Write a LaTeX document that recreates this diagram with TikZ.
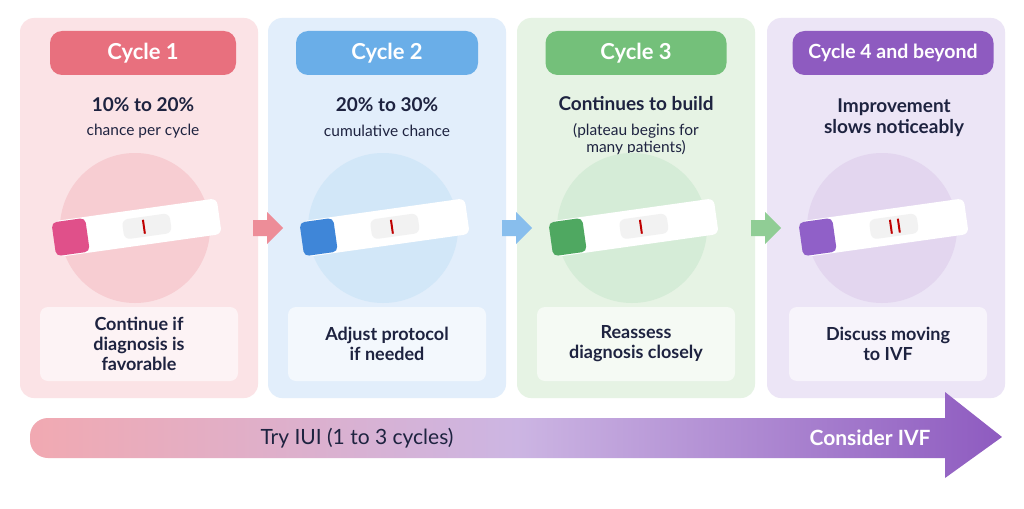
\documentclass[tikz,border=0pt]{standalone}
\usepackage{fontspec}
\setmainfont{Lato}
\usetikzlibrary{shapes.geometric,shadings}
\definecolor{pA}{HTML}{E8707E}\definecolor{pAbg}{HTML}{FBE3E6}\definecolor{pAc}{HTML}{E0508A}
\definecolor{pB}{HTML}{6AAEE8}\definecolor{pBbg}{HTML}{E2EEFB}\definecolor{pBc}{HTML}{3F86D8}
\definecolor{pC}{HTML}{74C07A}\definecolor{pCbg}{HTML}{E6F3E4}\definecolor{pCc}{HTML}{4FA861}
\definecolor{pD}{HTML}{8E5BC0}\definecolor{pDbg}{HTML}{ECE5F6}\definecolor{pDc}{HTML}{9060C8}
\definecolor{txt}{HTML}{1E2340}
\tikzset{
 panel/.style={rounded corners=14pt,fill=#1,draw=none},
 pill/.style={rounded corners=12pt,fill=#1,text=white,font=\bfseries\fontsize{22}{24}\selectfont,minimum height=44pt,inner xsep=4pt},
 ttl/.style={text=txt,font=\bfseries\fontsize{19}{21}\selectfont,align=center},
 sub/.style={text=txt,font=\fontsize{15.5}{17}\selectfont,align=center},
 box/.style={rounded corners=8pt,fill=white,fill opacity=0.6,text opacity=1,text=txt,font=\bfseries\fontsize{18}{20}\selectfont,align=center,minimum width=198pt,minimum height=74pt},
}
\newcommand{\teststick}[4]{% x,y,color,circle color
 \fill[#4] (#1,#2) circle (75);
 \begin{scope}[shift={(#1,#2)},rotate=8]
  \fill[white,rounded corners=6pt] (-80,-18) rectangle (85,18);
  \fill[#3,rounded corners=5pt] (-82,-17) rectangle (-48,17);
  \fill[white!90!gray,rounded corners=6pt] (-12,-10) rectangle (36,10);
  \draw[red!75!black,line width=2pt] (9,-7) -- (9,7);
 \end{scope}}
\begin{document}
\begin{tikzpicture}[x=1pt,y=-1pt]
\useasboundingbox (0,0) rectangle (1024,508);
\fill[white] (0,0) rectangle (1024,508);
\node[panel=pAbg,minimum width=238pt,minimum height=380pt] (p1) at (139,208) {};
\node[panel=pBbg,minimum width=238pt,minimum height=380pt] (p2) at (387,208) {};
\node[panel=pCbg,minimum width=238pt,minimum height=380pt] (p3) at (636,208) {};
\node[panel=pDbg,minimum width=238pt,minimum height=380pt] (p4) at (886,208) {};
\node[pill=pA,minimum width=186pt] (h1) at (143,53) {Cycle 1};
\node[pill=pB,minimum width=182pt] (h2) at (387,53) {Cycle 2};
\node[pill=pC,minimum width=181pt] (h3) at (636,53) {Cycle 3};
\node[pill=pD,minimum width=201pt,font=\bfseries\fontsize{19.5}{22}\selectfont] (h4) at (893,53) {Cycle 4 and beyond};
\node[ttl] (t1) at (143,105) {10\% to 20\%};
\node[sub] (s1) at (143,131) {chance per cycle};
\node[ttl] (t2) at (387,105) {20\% to 30\%};
\node[sub] (s2) at (387,131) {cumulative chance};
\node[ttl] (t3) at (636,104) {Continues to build};
\node[sub] (s3) at (636,139) {(plateau begins for\\many patients)};
\node[ttl] (t4) at (894,118) {Improvement\\slows noticeably};
\teststick{135}{228}{pAc}{pA!35}
\teststick{383}{228}{pBc}{pB!30}
\teststick{632}{228}{pCc}{pC!30}
\teststick{882}{228}{pDc}{pD!25}
\begin{scope}[shift={(882,228)},rotate=8]\draw[red!75!black,line width=2pt] (17,-7) -- (17,7);\end{scope}
\node[box] (b1) at (139,344) {Continue if\\diagnosis is\\favorable};
\node[box] (b2) at (387,344) {Adjust protocol\\if needed};
\node[box] (b3) at (636,344) {Reassess\\diagnosis closely};
\node[box] (b4) at (888,344) {Discuss moving\\to IVF};
\foreach \x/\c in {263/pA,512/pB,761/pC}{
 \fill[\c!80] (\x-10,220) -- (\x+4,220) -- (\x+4,212) -- (\x+20,228) -- (\x+4,244) -- (\x+4,236) -- (\x-10,236) -- cycle;}
\shade[left color=pA!60,right color=pD,middle color=pD!45] (30,418) [rounded corners=18pt] -- (30,458) [sharp corners] -- (945,458) -- (945,478) -- (1002,437) -- (945,392) -- (945,418) [rounded corners=18pt] -- cycle;
\node[text=txt,font=\fontsize{21}{24}\selectfont] (a1) at (357,438) {Try IUI (1 to 3 cycles)};
\node[text=white,font=\bfseries\fontsize{21}{24}\selectfont] (a2) at (870,438) {Consider IVF};
\end{tikzpicture}
\end{document}
